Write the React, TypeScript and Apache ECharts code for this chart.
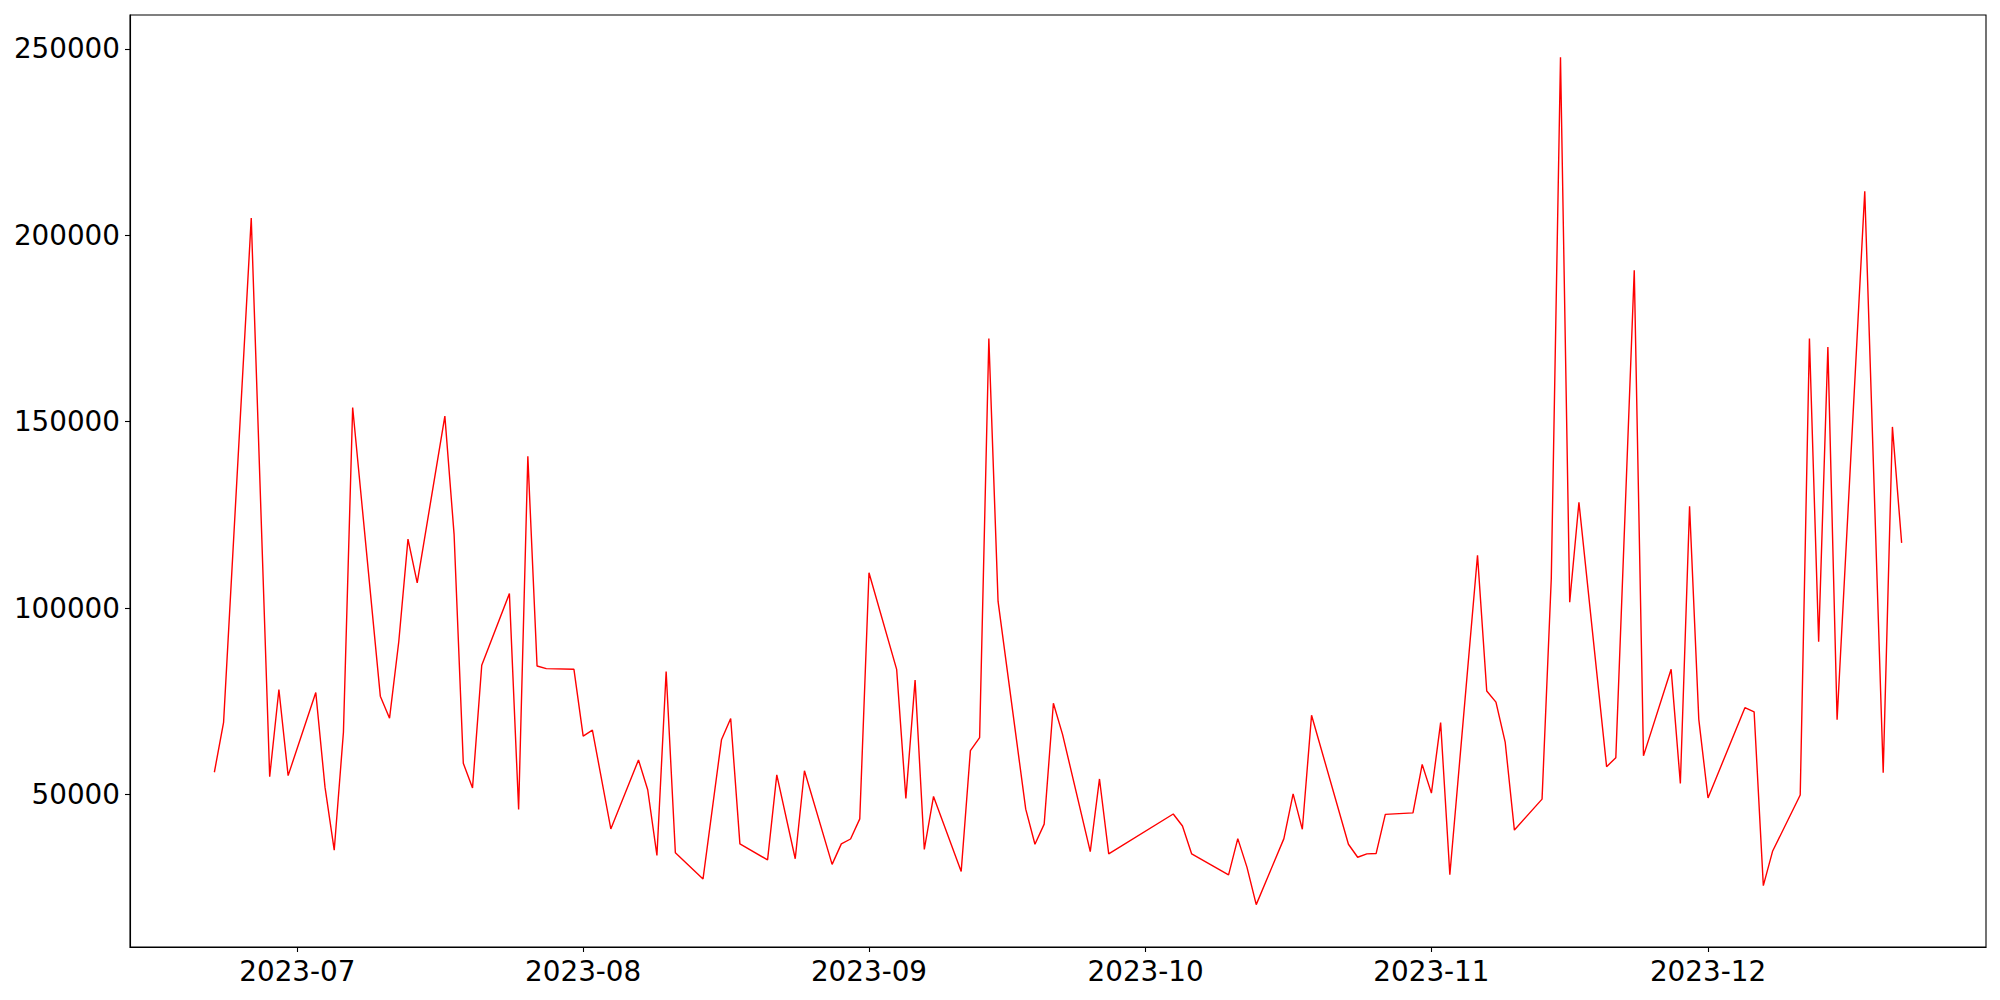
import React, { useEffect, useRef } from "react";
import * as echarts from "echarts";

const dates: string[] = [
  "2023-06-22", "2023-06-23", "2023-06-26", "2023-06-28", "2023-06-29", "2023-06-30",
  "2023-07-03", "2023-07-04", "2023-07-05", "2023-07-06", "2023-07-07",
  "2023-07-10", "2023-07-11", "2023-07-12", "2023-07-13", "2023-07-14",
  "2023-07-17", "2023-07-18", "2023-07-19", "2023-07-20", "2023-07-21",
  "2023-07-24", "2023-07-25", "2023-07-26", "2023-07-27", "2023-07-28",
  "2023-07-31", "2023-08-01", "2023-08-02", "2023-08-04",
  "2023-08-07", "2023-08-08", "2023-08-09", "2023-08-10", "2023-08-11",
  "2023-08-14", "2023-08-16", "2023-08-17", "2023-08-18",
  "2023-08-21", "2023-08-22", "2023-08-24", "2023-08-25",
  "2023-08-28", "2023-08-29", "2023-08-30", "2023-08-31", "2023-09-01",
  "2023-09-04", "2023-09-05", "2023-09-06", "2023-09-07", "2023-09-08",
  "2023-09-11", "2023-09-12", "2023-09-13", "2023-09-14", "2023-09-15",
  "2023-09-18", "2023-09-19", "2023-09-20", "2023-09-21", "2023-09-22",
  "2023-09-25", "2023-09-26", "2023-09-27",
  "2023-10-04", "2023-10-05", "2023-10-06",
  "2023-10-10", "2023-10-11", "2023-10-12", "2023-10-13",
  "2023-10-16", "2023-10-17", "2023-10-18", "2023-10-19",
  "2023-10-23", "2023-10-24", "2023-10-25", "2023-10-26", "2023-10-27",
  "2023-10-30", "2023-10-31", "2023-11-01", "2023-11-02", "2023-11-03",
  "2023-11-06", "2023-11-07", "2023-11-08", "2023-11-09", "2023-11-10",
  "2023-11-13", "2023-11-14", "2023-11-15", "2023-11-16", "2023-11-17",
  "2023-11-20", "2023-11-21", "2023-11-23", "2023-11-24",
  "2023-11-27", "2023-11-28", "2023-11-29", "2023-11-30", "2023-12-01",
  "2023-12-05", "2023-12-06", "2023-12-07", "2023-12-08",
  "2023-12-11", "2023-12-12", "2023-12-13", "2023-12-14", "2023-12-15",
  "2023-12-18", "2023-12-20", "2023-12-21", "2023-12-22",
];

const values: number[] = [
  56000, 69400, 204600, 54800, 78200, 55100,
  77400, 52000, 35100, 66800, 153800,
  76400, 70500, 91000, 118500, 106800,
  151500, 119800, 58400, 51800, 84700,
  103900, 46000, 140700, 84500, 83800,
  83600, 65700, 67300, 40800,
  59300, 51300, 33700, 83000, 34400,
  27400, 64700, 70400, 36800,
  32500, 55300, 32800, 56400,
  31300, 36800, 38100, 43500, 109500,
  83600, 49000, 80700, 35300, 49500,
  29400, 61800, 65300, 172300, 101800,
  46100, 36700, 42100, 74500, 66100,
  34700, 54200, 34100,
  44800, 41600, 34100,
  28500, 38200, 30500, 20500,
  38200, 50200, 40700, 71300,
  36700, 33200, 34100, 34200, 44700,
  45100, 58100, 50400, 69300, 28500,
  114200, 77800, 74800, 64100, 40500,
  48800, 107900, 247700, 101600, 128400,
  57500, 59900, 190600, 60400,
  83600, 53000, 127300, 70200, 49100,
  73300, 72200, 25600, 34800,
  49900, 172300, 91000, 170000, 70100,
  211800, 55900, 148600, 117500,
];

const monthTicks: string[] = [
  "2023-07-01", "2023-08-01", "2023-09-01", "2023-10-01", "2023-11-01", "2023-12-01",
];

const yTicks: number[] = [50000, 100000, 150000, 200000, 250000];

const FONT = "DejaVu Sans";

export default function App() {
  const ref = useRef<HTMLDivElement>(null);

  useEffect(() => {
    if (!ref.current) return;
    const chart = echarts.init(ref.current, null, { renderer: "svg" });

    const xs = dates.map((d) => Date.parse(d + "T00:00:00Z"));
    const xMinD = Math.min(...xs);
    const xMaxD = Math.max(...xs);
    const xPad = (xMaxD - xMinD) * 0.05;
    const yMinD = Math.min(...values);
    const yMaxD = Math.max(...values);
    const yPad = (yMaxD - yMinD) * 0.05;

    const tickTs = monthTicks.map((d) => Date.parse(d + "T00:00:00Z"));

    const fmtMonth = (v: number) => {
      const dt = new Date(v);
      const m = dt.getUTCMonth() + 1;
      return dt.getUTCFullYear() + "-" + (m < 10 ? "0" + m : String(m));
    };

    chart.setOption({
      animation: false,
      backgroundColor: "#ffffff",
      grid: {
        left: 130,
        right: 14,
        top: 15,
        bottom: 53,
        show: true,
        borderColor: "#000000",
        borderWidth: 1.1,
        backgroundColor: "transparent",
      },
      xAxis: {
        type: "value",
        min: xMinD - xPad,
        max: xMaxD + xPad,
        axisLine: { show: true, lineStyle: { color: "#000000", width: 1.1 } },
        axisTick: {
          show: true,
          inside: false,
          length: 5,
          lineStyle: { color: "#000000", width: 1.1 },
          customValues: tickTs,
        },
        axisLabel: {
          show: true,
          customValues: tickTs,
          formatter: (v: number) => fmtMonth(v),
          fontFamily: FONT,
          fontSize: 27.8,
          color: "#000000",
          margin: 10,
          hideOverlap: false,
          showMinLabel: true,
          showMaxLabel: true,
        },
        splitLine: { show: false },
      },
      yAxis: {
        type: "value",
        min: yMinD - yPad,
        max: yMaxD + yPad,
        axisLine: { show: true, lineStyle: { color: "#000000", width: 1.1 } },
        axisTick: {
          show: true,
          inside: false,
          length: 5,
          lineStyle: { color: "#000000", width: 1.1 },
          customValues: yTicks,
        },
        axisLabel: {
          show: true,
          customValues: yTicks,
          formatter: (v: number) => String(Math.round(v)),
          fontFamily: FONT,
          fontSize: 27.8,
          color: "#000000",
          margin: 10,
        },
        splitLine: { show: false },
      },
      series: [
        {
          type: "line",
          data: xs.map((x, i) => [x, values[i]]),
          showSymbol: false,
          symbol: "none",
          lineStyle: { color: "#ff0000", width: 1.4 },
          itemStyle: { color: "#ff0000" },
          z: 3,
        },
      ],
    });

    return () => {
      chart.dispose();
    };
  }, []);

  return (
    <div
      ref={ref}
      style={{
        position: "fixed",
        left: 0,
        top: 0,
        width: 2000,
        height: 1000,
        background: "#ffffff",
      }}
    />
  );
}
